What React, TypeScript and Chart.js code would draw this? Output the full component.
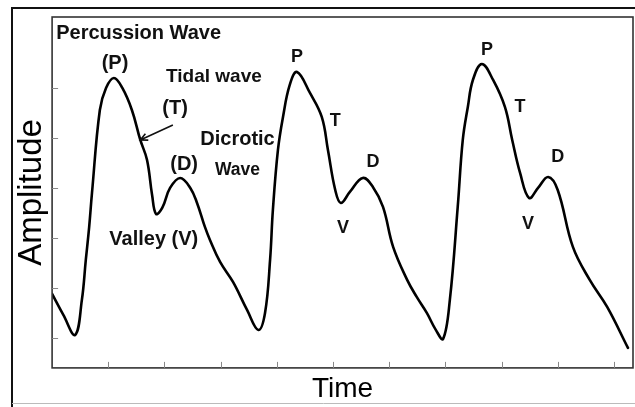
import React, { useEffect, useRef } from "react";
import { Chart, registerables } from "chart.js";

Chart.register(...registerables);

// Time (in tick units) and amplitude samples
const timeValues = [
  0.0, 0.2, 0.41, 0.53, 0.6, 0.66, 0.71, 0.85, 0.96, 1.1, 1.25, 1.42, 1.57, 1.69, 1.78, 1.85,
  1.96, 2.1, 2.28, 2.46, 2.58, 2.72, 2.81, 2.99, 3.22, 3.47, 3.67, 3.79, 3.88, 3.93, 4.02, 4.11,
  4.23, 4.36, 4.59, 4.8, 4.91, 5.04, 5.14, 5.3, 5.53, 5.71, 5.89, 6.07, 6.32, 6.49, 6.67, 6.83,
  6.96, 7.08, 7.22, 7.31, 7.4, 7.49, 7.65, 7.85, 8.06, 8.19, 8.33, 8.49, 8.65, 8.83, 9.0, 9.27,
  9.57, 9.88, 10.25,
];
const amplitudeValues = [
  0.88, 0.46, 0.06, 0.76, 1.56, 2.22, 2.9, 4.56, 5.0, 5.2, 5.0, 4.56, 3.96, 3.56, 2.86, 2.48,
  2.6, 3.0, 3.2, 3.0, 2.7, 2.22, 1.96, 1.52, 1.12, 0.56, 0.16, 0.5, 1.56, 2.56, 3.76, 4.42,
  5.06, 5.32, 4.9, 4.42, 3.76, 2.96, 2.7, 2.92, 3.2, 3.02, 2.62, 1.82, 1.16, 0.82, 0.5, 0.16,
  -0.02, 0.76, 2.62, 3.96, 4.62, 5.16, 5.48, 5.16, 4.62, 3.96, 3.3, 2.8, 3.0, 3.22, 2.96, 1.82,
  1.16, 0.62, -0.2,
];
const xTickValues = [1, 2, 3, 4, 5, 6, 7, 8, 9, 10];
const yTickValues = [0, 1, 2, 3, 4, 5];
const xRange = [0, 10.34];
const yRange = [-0.6, 6.42];

const xAxisTitle = "Time";
const yAxisTitle = "Amplitude";

// Annotation labels anchored in data coordinates
const annotationTexts = [
  "Percussion Wave", "(P)", "Tidal wave", "(T)", "Dicrotic", "(D)", "Wave", "Valley (V)",
  "P", "T", "D", "V", "P", "T", "D", "V",
];
const annotationX = [1.54, 1.12, 2.88, 2.19, 3.3, 2.35, 3.3, 1.81, 4.36, 5.04, 5.71, 5.18, 7.74, 8.33, 9.0, 8.47];
const annotationY = [6.1, 5.5, 5.22, 4.58, 3.96, 3.46, 3.36, 1.96, 5.62, 4.34, 3.52, 2.2, 5.76, 4.62, 3.62, 2.28];
const annotationSizes = [20, 20, 19, 20, 20, 20, 17.5, 20, 18, 18, 18, 18, 18, 18, 18, 18];
// Arrow from the "(T)" label to the tidal wave shoulder
const arrowFrom = [2.15, 4.26];
const arrowTo = [1.57, 3.96];

const FONT = "'Liberation Sans', Arial, sans-serif";

const decorPlugin = {
  id: "decor",
  beforeDraw(chart: any) {
    const { ctx, width, height } = chart;
    ctx.save();
    ctx.fillStyle = "#fff";
    ctx.fillRect(0, 0, width, height);
    ctx.strokeStyle = "#111";
    ctx.lineWidth = 2;
    ctx.beginPath();
    ctx.moveTo(12, height + 5);
    ctx.lineTo(12, 8);
    ctx.lineTo(width + 5, 8);
    ctx.stroke();
    ctx.strokeStyle = "#bbb";
    ctx.lineWidth = 1;
    ctx.beginPath();
    ctx.moveTo(12, height - 3.5);
    ctx.lineTo(width, height - 3.5);
    ctx.stroke();
    ctx.restore();
  },
  afterDraw(chart: any) {
    const { ctx, chartArea } = chart;
    const xs = chart.scales.x;
    const ys = chart.scales.y;
    ctx.save();
    // plot frame
    ctx.strokeStyle = "#333";
    ctx.lineWidth = 1.6;
    ctx.strokeRect(chartArea.left, chartArea.top, chartArea.right - chartArea.left, chartArea.bottom - chartArea.top);
    // inward tick marks
    ctx.strokeStyle = "#888";
    ctx.lineWidth = 1;
    ctx.beginPath();
    for (const v of xTickValues) {
      const px = Math.round(xs.getPixelForValue(v)) + 0.5;
      ctx.moveTo(px, chartArea.bottom);
      ctx.lineTo(px, chartArea.bottom - 6);
    }
    for (const v of yTickValues) {
      const py = Math.round(ys.getPixelForValue(v)) + 0.5;
      ctx.moveTo(chartArea.left, py);
      ctx.lineTo(chartArea.left + 6, py);
    }
    ctx.stroke();
    // annotations
    ctx.fillStyle = "#111";
    ctx.textAlign = "center";
    ctx.textBaseline = "middle";
    annotationTexts.forEach((t, i) => {
      ctx.font = `bold ${annotationSizes[i]}px ${FONT}`;
      ctx.fillText(t, xs.getPixelForValue(annotationX[i]), ys.getPixelForValue(annotationY[i]));
    });
    // arrow
    const x1 = xs.getPixelForValue(arrowFrom[0]);
    const y1 = ys.getPixelForValue(arrowFrom[1]);
    const x2 = xs.getPixelForValue(arrowTo[0]);
    const y2 = ys.getPixelForValue(arrowTo[1]);
    const ang = Math.atan2(y2 - y1, x2 - x1);
    ctx.strokeStyle = "#111";
    ctx.lineWidth = 1.6;
    ctx.beginPath();
    ctx.moveTo(x1, y1);
    ctx.lineTo(x2, y2);
    ctx.moveTo(x2 - 8 * Math.cos(ang - 0.45), y2 - 8 * Math.sin(ang - 0.45));
    ctx.lineTo(x2, y2);
    ctx.lineTo(x2 - 8 * Math.cos(ang + 0.45), y2 - 8 * Math.sin(ang + 0.45));
    ctx.stroke();
    ctx.restore();
  },
};

export default function App() {
  const canvasRef = useRef<HTMLCanvasElement | null>(null);

  useEffect(() => {
    const canvas = canvasRef.current;
    if (!canvas) return;
    const points = timeValues.map((t, i) => ({ x: t, y: amplitudeValues[i] }));
    const chart = new Chart(canvas, {
      type: "line",
      data: {
        datasets: [
          {
            data: points,
            borderColor: "#000",
            borderWidth: 2.6,
            pointRadius: 0,
            fill: false,
            tension: 0.4,
            borderJoinStyle: "round",
            borderCapStyle: "round",
          },
        ],
      },
      options: {
        responsive: false,
        animation: false,
        events: [],
        layout: { padding: { left: 6, top: 17, right: 2, bottom: 0 } },
        plugins: { legend: { display: false }, tooltip: { enabled: false } },
        scales: {
          x: {
            type: "linear",
            min: xRange[0],
            max: xRange[1],
            ticks: { display: false },
            grid: { display: false, drawTicks: false },
            border: { display: false },
            title: {
              display: true,
              text: xAxisTitle,
              color: "#000",
              font: { size: 28, family: FONT },
              padding: { top: 5, bottom: 0.5 },
            },
          },
          y: {
            type: "linear",
            min: yRange[0],
            max: yRange[1],
            ticks: { display: false },
            grid: { display: false, drawTicks: false },
            border: { display: false },
            title: {
              display: true,
              text: yAxisTitle,
              color: "#000",
              font: { size: 33, family: FONT },
              padding: { top: 6.5, bottom: 0 },
            },
          },
        },
      },
      plugins: [decorPlugin],
    } as any);
    return () => chart.destroy();
  }, []);

  return (
    <div style={{ position: "fixed", left: 0, top: 0, width: 635, height: 407, background: "#fff" }}>
      <canvas ref={canvasRef} width={635} height={407} style={{ display: "block" }} />
    </div>
  );
}
